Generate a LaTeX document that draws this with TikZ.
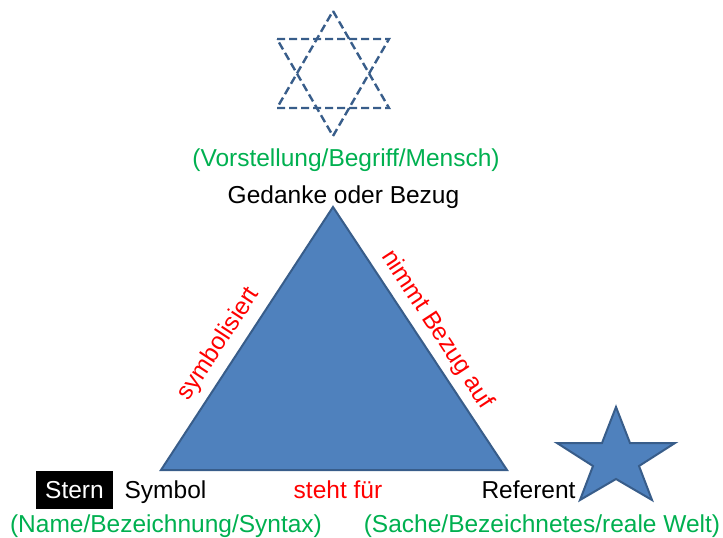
\documentclass[tikz,border=0pt]{standalone}
\usepackage{fontspec}
\setmainfont{Liberation Sans}
\definecolor{shapefill}{HTML}{4F81BD}
\definecolor{shapeline}{HTML}{385D8A}
\definecolor{notegreen}{HTML}{00B050}
\definecolor{relred}{HTML}{FF0000}
\begin{document}
\begin{tikzpicture}[x=1pt,y=-1pt,
  every node/.style={font=\fontsize{24.5}{29}\selectfont, inner sep=0pt},
  lbl/.style={anchor=base, text=black},
  note/.style={anchor=base, text=notegreen},
  rel/.style={text=relred},
  solidform/.style={fill=shapefill, draw=shapeline, line width=2pt, line join=miter},
  idea/.style={draw=shapeline, line width=2.4pt, dash pattern=on 8pt off 4pt, line join=miter}
]
\useasboundingbox (0,0) rectangle (723,538);

% star of David (dashed outline): two overlapping triangles
\coordinate (u1) at (333,11);
\coordinate (u2) at (389,108);
\coordinate (u3) at (277,108);
\coordinate (d1) at (277,39);
\coordinate (d2) at (389,39);
\coordinate (d3) at (333,136);
\draw[idea] (u1) -- (u2) -- (u3) -- cycle;
\draw[idea] (d1) -- (d2) -- (d3) -- cycle;

% semiotic triangle
\coordinate (apex) at (333,207);
\coordinate (sym) at (161,470);
\coordinate (ref) at (507,470);
\draw[solidform] (apex) -- (ref) -- (sym) -- cycle;

% five-pointed star
\draw[solidform] (616,407) -- (630,443) -- (675,443) -- (639,466) -- (652,500)
  -- (616,479) -- (580,500) -- (593,466) -- (557,443) -- (602,443) -- cycle;

% corner labels
\node[note] (vorst) at (346,166.5) {(Vorstellung/Begriff/Mensch)};
\node[lbl] (gedanke) at (343.5,203) {Gedanke oder Bezug};

\node[fill=black, text=white, minimum width=77pt, minimum height=38pt] (stern) at (74.5,490) {};
\node[anchor=base, text=white] (sterntxt) at (74.5,498) {Stern};
\node[lbl] (symbol) at (165.5,498) {Symbol};
\node[note] (name) at (166,532) {(Name/Bezeichnung/Syntax)};

\node[lbl] (referent) at (528.5,498) {Referent};
\node[note] (sache) at (542,532) {(Sache/Bezeichnetes/reale Welt)};

% relation labels along the sides
\node[rel, rotate=56.8] (symbolisiert) at (219,344) {symbolisiert};
\node[rel, rotate=-56.8] (bezug) at (437,330) {nimmt Bezug auf};
\node[rel, anchor=base] (steht) at (338,498) {steht für};
\end{tikzpicture}
\end{document}
